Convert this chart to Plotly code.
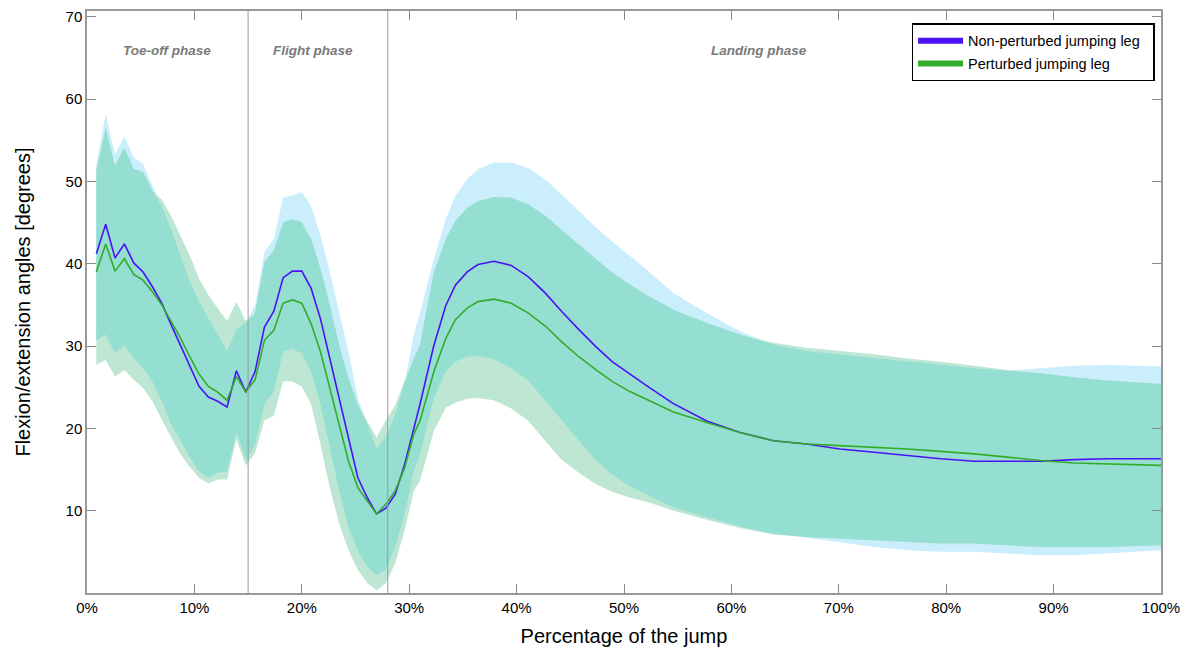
import plotly.graph_objects as go
import numpy as np

# x positions (% of the jump)
pct = [0.87, 1.74, 2.61, 3.48, 4.35, 5.22, 6.09, 6.96, 7.83, 8.70, 9.57, 10.43, 11.30, 12.17,
       13.04, 13.91, 14.78, 15.65, 16.52, 17.39, 18.26, 19.13, 20.00, 20.87, 21.74, 22.61,
       23.48, 24.35, 25.22, 26.09, 26.96, 27.83, 28.70, 29.57, 30.43,
       31.0, 32.3, 33.4, 34.3, 35.4, 36.4, 37.9, 39.5, 41.1, 42.7, 44.2, 45.8, 47.4, 48.9,
       50.5, 52.1, 54.6, 57.7, 60.8, 63.9, 67.0, 70.1, 73.3, 76.4, 79.5, 82.6, 85.7, 88.8,
       91.9, 95.0, 100.0]

# Non-perturbed jumping leg
nonpert_mean = [41.2, 44.8, 40.7, 42.4, 40.1, 39.0, 37.2, 35.2, 32.6, 30.1, 27.5, 25.1, 23.8, 23.3,
                22.6, 27.0, 24.4, 26.9, 32.3, 34.2, 38.3, 39.1, 39.1, 37.0, 33.3, 28.5, 23.3, 18.5,
                14.0, 11.6, 9.6, 10.3, 12.0, 15.6, 20.1,
                22.9, 30.1, 34.9, 37.4, 39.0, 39.9, 40.3, 39.8, 38.4, 36.4, 34.2, 32.0, 29.9, 28.1,
                26.6, 25.2, 23.0, 20.9, 19.5, 18.5, 18.1, 17.5, 17.1, 16.7, 16.3, 16.0, 16.0, 16.0,
                16.2, 16.3, 16.3]
nonpert_upper = [52.1, 58.2, 53.3, 55.5, 52.9, 52.1, 49.5, 47.0, 44.2, 41.0, 37.8, 35.4, 33.4, 31.4,
                 29.4, 32.0, 32.9, 35.0, 41.4, 43.0, 48.0, 48.3, 48.7, 47.0, 43.4, 39.0, 34.2, 29.3,
                 23.7, 20.5, 17.5, 19.0, 21.7, 25.5, 31.4,
                 34.0, 40.6, 45.4, 48.2, 50.3, 51.5, 52.3, 52.3, 51.6, 50.2, 48.4, 46.4, 44.4, 42.7,
                 41.0, 39.3, 36.4, 34.0, 31.8, 30.2, 29.4, 29.0, 28.5, 28.1, 27.7, 27.3, 27.0, 27.3,
                 27.6, 27.7, 27.5]
nonpert_lower = [30.7, 31.4, 29.1, 30.1, 28.5, 27.3, 25.7, 23.3, 20.5, 18.5, 16.5, 14.8, 14.0, 14.6,
                 14.8, 19.5, 16.2, 18.0, 22.9, 24.5, 29.3, 29.7, 29.1, 26.9, 22.9, 17.6, 12.4, 8.0,
                 5.2, 3.2, 2.2, 2.8, 5.6, 9.6, 14.8,
                 16.8, 23.7, 26.9, 28.1, 28.7, 28.8, 28.4, 27.3, 25.8, 23.3, 21.0, 18.5, 16.1, 14.4,
                 13.0, 12.0, 10.4, 9.2, 8.1, 7.2, 6.7, 6.2, 5.6, 5.2, 5.0, 5.0, 4.8, 4.6,
                 4.6, 4.8, 5.2]

# Perturbed jumping leg
pert_mean = [39.0, 42.4, 39.1, 40.6, 38.7, 38.0, 36.6, 35.0, 33.0, 31.0, 28.7, 26.6, 25.1, 24.4,
             23.4, 26.3, 24.4, 25.9, 30.7, 31.9, 35.2, 35.6, 35.2, 32.7, 29.3, 24.9, 20.5, 16.0,
             12.8, 11.2, 9.6, 10.8, 12.4, 15.2, 19.3,
             20.9, 26.9, 30.9, 33.2, 34.6, 35.4, 35.7, 35.2, 34.0, 32.4, 30.5, 28.7, 27.1, 25.7,
             24.5, 23.5, 22.0, 20.7, 19.5, 18.5, 18.1, 17.9, 17.7, 17.5, 17.2, 16.9, 16.5, 16.1,
             15.8, 15.7, 15.5]
pert_upper = [51.3, 56.5, 51.9, 54.1, 51.5, 51.1, 48.9, 47.8, 45.8, 43.4, 41.0, 38.2, 36.2, 34.6,
              33.0, 35.4, 33.0, 34.0, 40.2, 41.6, 45.0, 45.4, 45.0, 43.0, 39.4, 35.0, 30.1, 26.1,
              22.9, 20.9, 18.9, 21.0, 22.8, 25.8, 28.5,
              30.1, 39.0, 43.0, 45.2, 46.8, 47.6, 48.1, 48.0, 47.2, 45.8, 44.1, 42.3, 40.5, 38.9,
              37.5, 36.2, 34.4, 32.8, 31.4, 30.4, 29.8, 29.4, 29.0, 28.5, 28.1, 27.6, 27.1, 26.7,
              26.2, 25.8, 25.4]
pert_lower = [27.7, 28.3, 26.3, 27.1, 25.9, 24.9, 23.3, 21.1, 18.9, 16.9, 15.3, 14.0, 13.3, 13.8,
              13.8, 18.7, 15.5, 17.0, 21.0, 21.5, 25.7, 25.7, 25.1, 22.9, 18.0, 12.8, 8.4, 5.2,
              2.8, 1.2, 0.3, 1.2, 3.6, 7.6, 12.4,
              13.6, 19.7, 22.5, 23.1, 23.6, 23.7, 23.4, 22.4, 20.9, 18.4, 16.2, 14.6, 13.2, 12.3,
              11.6, 11.1, 10.0, 8.9, 7.9, 7.1, 6.8, 6.6, 6.4, 6.2, 6.0, 6.0, 5.8, 5.6,
              5.6, 5.6, 5.8]

phase_bounds = [15, 28]
phase_labels = ["Toe-off phase", "Flight phase", "Landing phase"]
phase_label_x = [7.45, 21.0, 62.6]
x_ticks = [0, 10, 20, 30, 40, 50, 60, 70, 80, 90, 100]
x_tick_text = [f"{v}%" for v in x_ticks]
y_ticks = [10, 20, 30, 40, 50, 60, 70]

FONT = "Liberation Sans, Arial, Helvetica, sans-serif"
BLUE = "#4a12f5"
GREEN = "#34ac2a"
LIGHT_BLUE = "#caeefc"
LIGHT_GREEN = "#bde7d3"
TEAL = "#95ded2"

x = np.array(pct)


def band(xv, up, lo, color):
    up = np.asarray(up)
    lo = np.asarray(lo)
    return go.Scatter(
        x=np.concatenate([xv, xv[::-1]]),
        y=np.concatenate([up, lo[::-1]]),
        fill="toself", fillcolor=color, mode="lines",
        line=dict(width=0, color="rgba(0,0,0,0)"),
        hoverinfo="skip", showlegend=False,
    )


fig = go.Figure()
fig.add_trace(band(x, nonpert_upper, nonpert_lower, LIGHT_BLUE))
fig.add_trace(band(x, pert_upper, pert_lower, LIGHT_GREEN))
fig.add_trace(band(x, np.minimum(nonpert_upper, pert_upper),
                   np.maximum(nonpert_lower, pert_lower), TEAL))

fig.add_trace(go.Scatter(x=x, y=nonpert_mean, mode="lines",
                         line=dict(color=BLUE, width=1.6), showlegend=False))
fig.add_trace(go.Scatter(x=x, y=pert_mean, mode="lines",
                         line=dict(color=GREEN, width=1.6), showlegend=False))

# legend entries
NB = "\u00a0\u00a0"
fig.add_trace(go.Scatter(x=[None], y=[None], mode="lines", legendgroup="a",
                         line=dict(color=BLUE, width=6), name="Non-perturbed jumping leg" + NB))
fig.add_trace(go.Scatter(x=[None], y=[None], mode="lines", legendgroup="b",
                         line=dict(color=GREEN, width=6), name="Perturbed jumping leg"))

for b in phase_bounds:
    fig.add_shape(type="line", x0=b, x1=b, y0=0, y1=1, xref="x", yref="paper",
                  line=dict(color="#9a9a9a", width=1), layer="above")

for lab, lx in zip(phase_labels, phase_label_x):
    fig.add_annotation(x=lx, y=65.9, xref="x", yref="y", text=f"<b><i>{lab}</i></b>",
                       showarrow=False, font=dict(family=FONT, size=13.5, color="#7a7a7a"))

# page body has an 8px margin: figure sized so the plot area lands where the reference has it
fig.update_layout(
    width=1187, height=654,
    margin=dict(l=79, r=34, t=0, b=69),
    paper_bgcolor="white", plot_bgcolor="white",
    font=dict(family=FONT, size=15, color="black"),
    legend=dict(x=0.994, y=0.979, xanchor="right", yanchor="top",
                bgcolor="white", bordercolor="black", borderwidth=1.5,
                font=dict(family=FONT, size=14.5, color="black"),
                itemwidth=45, tracegroupgap=1),
)
fig.update_xaxes(
    range=[0, 100], tickvals=x_ticks, ticktext=x_tick_text,
    ticks="inside", ticklen=9, tickcolor="#8a8a8a", tickwidth=1.2,
    showline=True, linecolor="#999999", linewidth=1.5, mirror="ticks",
    showgrid=False, zeroline=False,
    tickfont=dict(family=FONT, size=15, color="black"),
    title=dict(text="Percentage of the jump", font=dict(family=FONT, size=20, color="black"),
               standoff=14),
)
fig.update_yaxes(
    range=[0, 70.7], tickvals=y_ticks, ticklabeloverflow="allow",
    ticks="inside", ticklen=9, tickcolor="#8a8a8a", tickwidth=1.2,
    showline=True, linecolor="#999999", linewidth=1.5, mirror="ticks",
    showgrid=False, zeroline=False,
    tickfont=dict(family=FONT, size=15, color="black"),
    title=dict(text="Flexion/extension angles [degrees]",
               font=dict(family=FONT, size=20, color="black"), standoff=30),
)

fig.write_html("out.html")
